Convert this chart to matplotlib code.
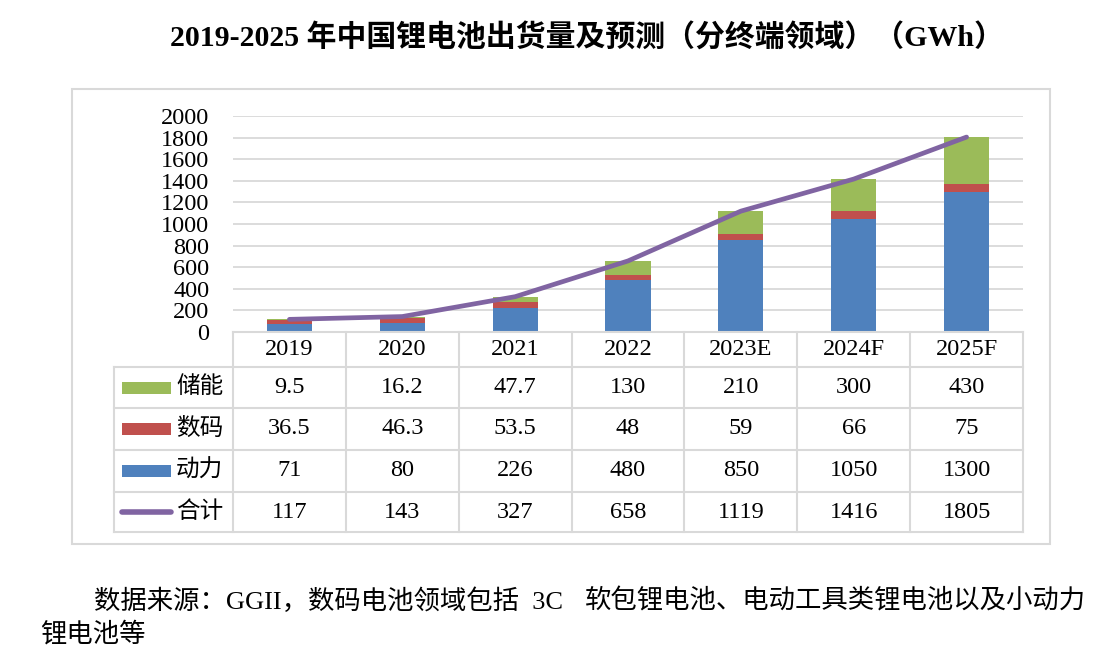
import numpy as np
import matplotlib.pyplot as plt
from matplotlib.patches import Rectangle

plt.rcParams['font.family'] = ['Liberation Serif', 'Noto Sans CJK SC']

years = ['2019', '2020', '2021', '2022', '2023E', '2024F', '2025F']
storage = [9.5, 16.2, 47.7, 130, 210, 300, 430]
digital = [36.5, 46.3, 53.5, 48, 59, 66, 75]
power = [71, 80, 226, 480, 850, 1050, 1300]
total = [117, 143, 327, 658, 1119, 1416, 1805]
storage_lbl = ['9.5', '16.2', '47.7', '130', '210', '300', '430']
digital_lbl = ['36.5', '46.3', '53.5', '48', '59', '66', '75']

c_storage = '#9BBB59'
c_digital = '#C0504D'
c_power = '#4F81BD'
c_total = '#8064A2'
c_grid = '#D9D9D9'

W, H = 1114, 664
fig = plt.figure(figsize=(W / 100, H / 100), dpi=100)

def fx(px):
    return px / W

def fy(py):
    return 1 - py / H

# outer border
fig.patches.append(Rectangle((fx(72), fy(544)), fx(1050) - fx(72), fy(89) - fy(544),
                             transform=fig.transFigure, fill=False, ec=c_grid, lw=1.5))

fig.text(fx(587), fy(38), '2019-2025 年中国锂电池出货量及预测（分终端领域）（GWh）',
         ha='center', va='center', fontsize=21.5, fontweight='bold')

# chart
left, right, top, bottom = 233, 1023, 116, 332
ax = fig.add_axes([fx(left), fy(bottom), fx(right) - fx(left), fy(top) - fy(bottom)])
x = np.arange(len(years))
bw = 0.4
ax.bar(x, power, bw, color=c_power, zorder=2)
ax.bar(x, digital, bw, bottom=power, color=c_digital, zorder=2)
ax.bar(x, storage, bw, bottom=np.array(power) + np.array(digital), color=c_storage, zorder=2)
ax.plot(x, total, color=c_total, lw=3.4, solid_capstyle='round', zorder=3)
ax.set_xlim(-0.5, len(years) - 0.5)
ax.set_ylim(0, 2000)
ax.set_yticks(np.arange(0, 2001, 200))
ax.set_xticks([])
ax.yaxis.grid(True, color=c_grid, lw=1.3, zorder=0)
for s in ax.spines.values():
    s.set_visible(False)
ax.tick_params(axis='y', length=0, pad=17, labelsize=17.5)

# data table below
tleft, tbottom = 114, 532
unit = (right - left) / len(years)
xl = -0.5 - (left - tleft) / unit
tax = fig.add_axes([fx(tleft), fy(tbottom), fx(right) - fx(tleft), fy(bottom) - fy(tbottom)])
tax.set_xlim(xl, len(years) - 0.5)
tax.set_ylim(200, 0)
tax.axis('off')
edges = [0, 35, 76, 118, 160, 200]
tax.plot([-0.5, len(years) - 0.5], [0, 0], color=c_grid, lw=1.5, clip_on=False)
for e in edges[1:]:
    tax.plot([xl, len(years) - 0.5], [e, e], color=c_grid, lw=1.5, clip_on=False)
tax.plot([xl, xl], [edges[1], edges[-1]], color=c_grid, lw=1.5, clip_on=False)
for i in range(len(years) + 1):
    tax.plot([i - 0.5, i - 0.5], [0, 200], color=c_grid, lw=1.5, clip_on=False)

rows = [years, storage_lbl, digital_lbl, [str(v) for v in power], [str(v) for v in total]]
for r, vals in enumerate(rows):
    yc = (edges[r] + edges[r + 1]) / 2
    for i, v in enumerate(vals):
        tax.text(i, yc, v, ha='center', va='center', fontsize=17.5)

names = ['储能', '数码', '动力', '合计']
colors = [c_storage, c_digital, c_power, c_total]
key_x0 = xl + 8 / unit
key_x1 = xl + 57 / unit
for r, (nm, c) in enumerate(zip(names, colors)):
    yc = (edges[r + 1] + edges[r + 2]) / 2
    if nm == '合计':
        tax.plot([key_x0, key_x1], [yc, yc], color=c, lw=4, solid_capstyle='round')
    else:
        tax.add_patch(Rectangle((key_x0, yc - 6), key_x1 - key_x0, 12, color=c, lw=0))
    tax.text(xl + 62 / unit, yc, nm, ha='left', va='center', fontsize=17)

fig.text(fx(94), fy(601), '数据来源：GGII，数码电池领域包括  3C', ha='left', va='center', fontsize=19)
fig.text(fx(1086), fy(601), '软包锂电池、电动工具类锂电池以及小动力', ha='right', va='center', fontsize=19)
fig.text(fx(40), fy(634), '锂电池等', ha='left', va='center', fontsize=19)

fig.savefig('out.png', dpi=100)
